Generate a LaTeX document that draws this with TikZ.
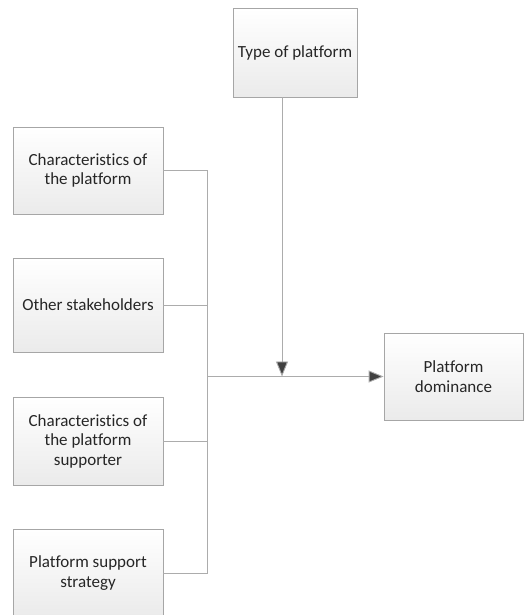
\documentclass[tikz,border=0pt]{standalone}
\usepackage{fontspec}
\setmainfont{Carlito}[Ligatures=NoCommon]
\usetikzlibrary{arrows.meta}
\begin{document}
\begin{tikzpicture}[x=1pt, y=-1pt,
    box/.style={draw=gray!70, line width=0.8pt, top color=white, bottom color=gray!16,
      align=center, inner sep=0pt, minimum width=150pt, minimum height=87pt,
      text=black!85, font=\fontsize{17}{19.5}\selectfont},
    link/.style={draw=gray!65, line width=0.9pt},
    arrow/.style={link, -{Triangle[length=15pt, width=12pt, fill=black!75]}}]
    \useasboundingbox (0,0) rectangle (525,615);
    % factors on the left
    \node[box] (char) at (88,170.5) {Characteristics of\\the platform};
    \node[box, minimum height=94pt] (other) at (88,305) {Other stakeholders};
    \node[box, minimum height=88pt] (supp) at (88,441) {Characteristics of\\the platform\\supporter};
    \node[box, minimum height=88pt] (strat) at (88,573) {Platform support\\strategy};
    % moderator and outcome
    \node[box, minimum width=124pt, minimum height=89pt] (type) at (295,52.5) {Type of platform};
    \node[box, minimum width=139pt, minimum height=87pt] (dom) at (453.5,376.5) {Platform\\dominance};
    \coordinate (bus) at (207,376.5);
    \coordinate (tip) at (282,376.5);
    \foreach \n in {char,other,supp,strat}
      \draw[link] (\n.east) -| (bus);
    \draw[arrow] (bus) -- (dom.west);
    \draw[arrow] (type.south -| tip) -- (tip);
\end{tikzpicture}
\end{document}
